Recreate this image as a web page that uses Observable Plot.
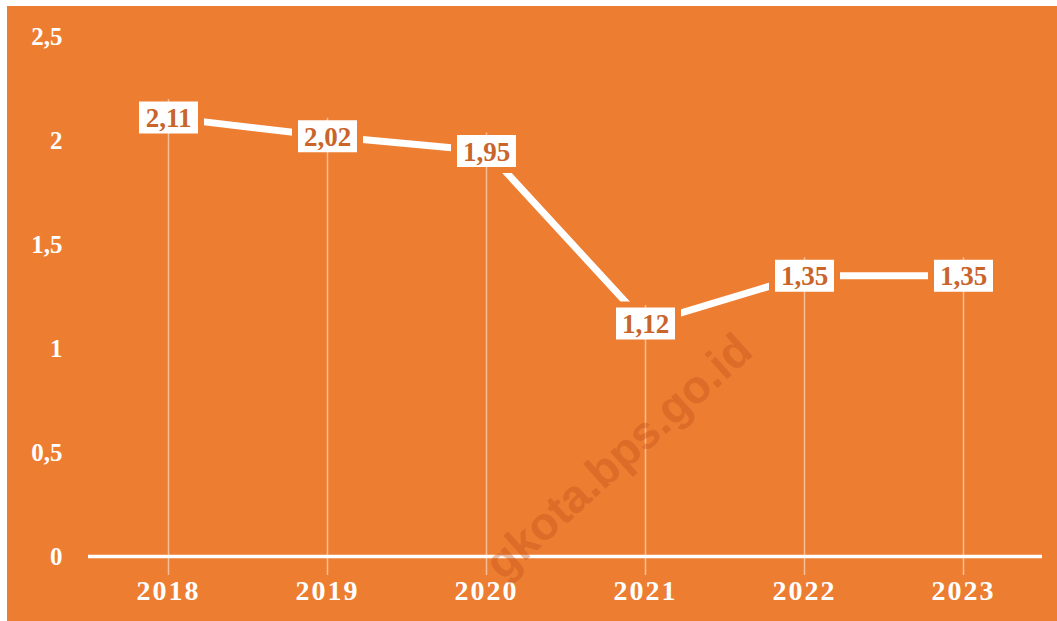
<!DOCTYPE html>
<html><head><meta charset="utf-8">
<script src="https://cdn.jsdelivr.net/npm/d3@7"></script>
<script src="https://cdn.jsdelivr.net/npm/@observablehq/plot@0.6"></script>
<style>
body{margin:0;background:#fff;width:1057px;height:621px;overflow:hidden;}
#wrap{position:absolute;left:7px;top:6px;width:1050px;height:615px;background:#ED7D31;overflow:hidden;}
#wrap svg.plot{position:absolute;left:0;top:0;}
#wm{position:absolute;left:0;top:0;pointer-events:none;}
g[aria-label="x-axis tick label"] text{letter-spacing:2px;}
</style></head><body><div id="wrap"></div>
<script>
const years = ["2018","2019","2020","2021","2022","2023"];
const values = [2.11, 2.02, 1.95, 1.12, 1.35, 1.35];
const valueLabels = ["2,11","2,02","1,95","1,12","1,35","1,35"];
const yTicks = [0, 0.5, 1, 1.5, 2, 2.5];
const yTickLabels = ["0","0,5","1","1,5","2","2,5"];
const watermark = "gkota.bps.go.id";

const data = years.map((y, i) => ({year: y, value: values[i], label: valueLabels[i]}));
const orange = "#ED7D31";
const labelColor = "#C9642B";
const serif = "'Liberation Serif', 'Times New Roman', serif";
const boxSymbol = {draw(ctx) { ctx.rect(-32.5, -19, 65, 38); }};

const chart = Plot.plot({
  width: 1050,
  height: 615,
  marginLeft: 81,
  marginRight: 15,
  marginTop: 30,
  marginBottom: 65,
  style: {background: "transparent", color: "white", overflow: "visible"},
  x: {type: "point", domain: years, padding: 0.5, label: null},
  y: {domain: [0, 2.5], label: null},
  marks: [
    Plot.axisY(yTicks, {tickSize: 0, tickPadding: 26, fontSize: 25, fontWeight: "bold", fontFamily: serif, fill: "white", label: null,
      tickFormat: d => yTickLabels[yTicks.indexOf(d)]}),
    Plot.axisX({tickSize: 0, tickPadding: 24, fontSize: 28, fontWeight: "bold", fontFamily: serif, fill: "white", label: null}),
    Plot.ruleY([0], {stroke: "white", strokeWidth: 3.5}),
    Plot.line(data, {x: "year", y: "value", stroke: "white", strokeWidth: 7}),
    Plot.dot(data, {x: "year", y: "value", symbol: boxSymbol, fill: "white", stroke: orange, strokeWidth: 6}),
    Plot.ruleX(data, {x: "year", y1: 0, y2: "value", stroke: "white", strokeOpacity: 0.5, strokeWidth: 1.5, insetTop: 19, insetBottom: 18}),
    Plot.text(data, {x: "year", y: "value", text: "label", fill: labelColor, fontSize: 27, fontWeight: "bold", fontFamily: serif, dy: 1})
  ]
});
const wrap = document.getElementById("wrap");
wrap.appendChild(chart);

// faint watermark overlay
const wm = d3.select(wrap).append("svg").attr("id", "wm").attr("width", 1050).attr("height", 615);
wm.append("text")
  .attr("transform", "translate(748,348) rotate(-42)")
  .attr("text-anchor", "end")
  .attr("font-family", "'Liberation Sans', Arial, sans-serif")
  .attr("font-weight", "bold")
  .attr("font-size", 46)
  .attr("fill", "#C0501A")
  .attr("fill-opacity", 0.4)
  .text(watermark);
</script>
</body></html>
